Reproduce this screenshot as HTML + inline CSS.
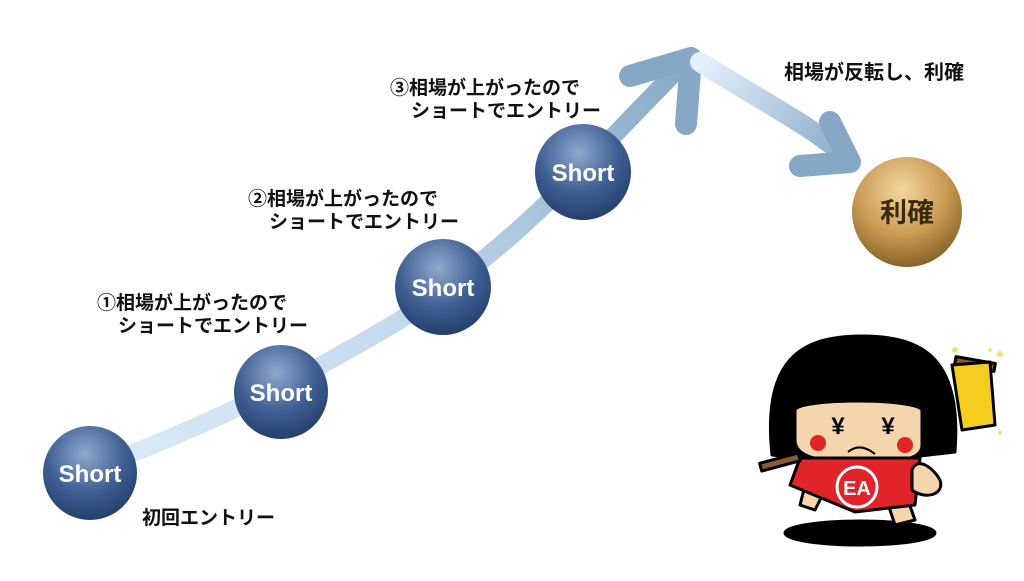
<!DOCTYPE html>
<html><head><meta charset="utf-8"><style>
html,body{margin:0;padding:0;background:#fff;}
body{width:1024px;height:576px;overflow:hidden;}
svg text{font-family:"Liberation Sans","Noto Sans CJK JP",sans-serif;font-weight:bold;}
</style></head><body>
<svg width="1024" height="576" viewBox="0 0 1024 576" xmlns="http://www.w3.org/2000/svg">
<defs>
<linearGradient id="up" x1="90" y1="470" x2="690" y2="60" gradientUnits="userSpaceOnUse">
<stop offset="0" stop-color="#dcecf8"/><stop offset="0.5" stop-color="#c2d8ec"/><stop offset="1" stop-color="#86a8c6"/></linearGradient>
<linearGradient id="dn" x1="700" y1="65" x2="850" y2="160" gradientUnits="userSpaceOnUse">
<stop offset="0" stop-color="#e4f0fb"/><stop offset="1" stop-color="#86a8c6"/></linearGradient>
<radialGradient id="blue" cx="0.45" cy="0.3" r="0.75">
<stop offset="0" stop-color="#8fa8cc"/><stop offset="0.55" stop-color="#3f5f93"/><stop offset="1" stop-color="#203a66"/></radialGradient>
<radialGradient id="gold" cx="0.45" cy="0.3" r="0.75">
<stop offset="0" stop-color="#f3d7a0"/><stop offset="0.55" stop-color="#c99a52"/><stop offset="1" stop-color="#7d5a22"/></radialGradient>
</defs>
<path d="M90,470 C220,420 300,380 400,320 C520,240 560,190 685,62" fill="none" stroke="url(#up)" stroke-width="18" stroke-linecap="round"/>
<path d="M630,76 L691,58 L686,124" fill="none" stroke="#86a8c6" stroke-width="22" stroke-linecap="round" stroke-linejoin="round"/>
<path d="M700,62 C760,100 810,125 848,158" fill="none" stroke="url(#dn)" stroke-width="20" stroke-linecap="round"/>
<path d="M830,122 L850,162 L800,166" fill="none" stroke="#86a8c6" stroke-width="22" stroke-linecap="round" stroke-linejoin="round"/>
<g font-size="24" fill="#fff" text-anchor="middle">
<circle cx="90" cy="473" r="47" fill="url(#blue)"/><text x="90" y="482" fill="#fff">Short</text>
<circle cx="281" cy="392" r="47" fill="url(#blue)"/><text x="281" y="401" fill="#fff">Short</text>
<circle cx="443" cy="287" r="48" fill="url(#blue)"/><text x="443" y="296" fill="#fff">Short</text>
<circle cx="583" cy="172" r="48" fill="url(#blue)"/><text x="583" y="181" fill="#fff">Short</text>
<circle cx="907" cy="212" r="55" fill="url(#gold)"/><text x="907" y="222" font-size="27" fill="#3a2a10">利確</text>
</g>
<g font-size="19" fill="#111">
<text x="97" y="309">①相場が上がったので</text>
<text x="118" y="332">ショートでエントリー</text>
<text x="248" y="205">②相場が上がったので</text>
<text x="269" y="228">ショートでエントリー</text>
<text x="390" y="94">③相場が上がったので</text>
<text x="411" y="117">ショートでエントリー</text>
<text x="142" y="524">初回エントリー</text>
<text x="784" y="79" font-size="20">相場が反転し、利確</text>
</g>
<g stroke="#000" stroke-width="3" stroke-linejoin="round">
<ellipse cx="860" cy="533" rx="75" ry="12" fill="#000"/>
<rect x="955" y="360" width="40" height="8" fill="#8a5a36" transform="rotate(10 975 364)"/>
<path d="M952,365 L990,362 L995,425 L962,430 Z" fill="#f5cd1e"/>
<path d="M812,458 L800,505 L815,510 L830,480 Z" fill="#f5d6ac"/>
<path d="M880,480 L895,525 L915,520 L900,478 Z" fill="#f5d6ac"/>
<path d="M772,455 C762,360 800,336 862,336 C925,336 962,360 955,452 L920,456 L800,458 Z" fill="#000"/>
<path d="M795,410 C800,398 915,398 922,410 L922,445 C922,460 900,462 860,462 C815,462 795,456 795,440 Z" fill="#f5d6ac"/>
<path d="M800,458 L920,458 L915,505 L855,512 L790,485 Z" fill="#e0242a"/>
<path d="M912,470 C918,455 935,470 940,480 C945,495 925,500 912,490 Z" fill="#f5d6ac"/>
<rect x="760" y="458" width="40" height="8" fill="#8a5a36" transform="rotate(-15 780 462)"/>
</g>
<circle cx="857" cy="487" r="20" fill="#e0242a" stroke="#fff" stroke-width="3"/>
<text x="857" y="495" font-size="20" fill="#fff" text-anchor="middle">EA</text>
<circle cx="818" cy="443" r="8" fill="#e0242a"/><circle cx="905" cy="445" r="8" fill="#e0242a"/>
<text x="838" y="434" font-size="24" fill="#000" text-anchor="middle">¥</text>
<text x="888" y="434" font-size="24" fill="#000" text-anchor="middle">¥</text>
<path d="M848,452 Q860,442 875,454" fill="none" stroke="#000" stroke-width="2"/>
<g fill="#f3e27a"><circle cx="955" cy="350" r="3"/><circle cx="1000" cy="354" r="3"/><circle cx="990" cy="350" r="2"/><circle cx="1000" cy="433" r="2"/></g>
</svg>
</body></html>
